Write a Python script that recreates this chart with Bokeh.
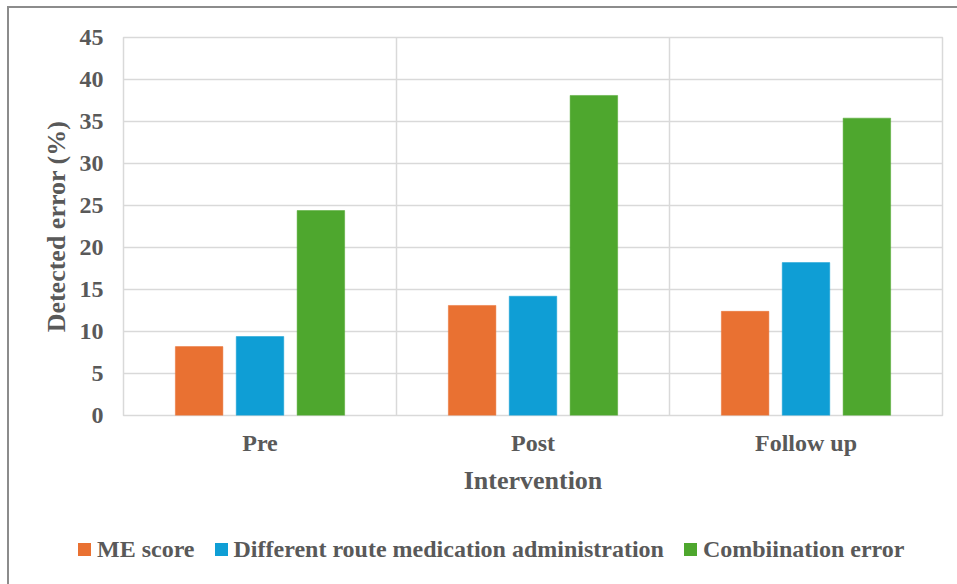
from bokeh.plotting import figure
from bokeh.layouts import column
from bokeh.models import ColumnDataSource, FactorRange, Range1d, Span, FixedTicker, Div
from bokeh.transform import dodge
from bokeh.embed import file_html
from bokeh.resources import INLINE

# Detected medication errors (%) by study phase
stages = ["Pre", "Post", "Follow up"]
me_score = [8.2, 13.1, 12.4]
different_route = [9.4, 14.2, 18.2]
combination_error = [24.4, 38.1, 35.4]
series_names = ["ME score", "Different route medication administration", "Combiination error"]
y_ticks = [0, 5, 10, 15, 20, 25, 30, 35, 40, 45]

FONT = "Liberation Serif"
TEXT = "#595959"
GRID = "#d9d9d9"
COLORS = ["#E97132", "#0F9ED5", "#4EA72E"]

src = ColumnDataSource(dict(stage=stages, me=me_score, route=different_route, combo=combination_error))

p = figure(
    width=948, height=500,
    x_range=FactorRange(*stages, range_padding=0),
    y_range=Range1d(0, 45),
    output_backend="svg", toolbar_location=None,
    min_border_left=114, min_border_right=15, min_border_top=29, min_border_bottom=93,
)

p.outline_line_color = GRID
p.outline_line_width = 1.5
p.background_fill_color = "white"
p.border_fill_color = "white"

# horizontal grid
p.ygrid.grid_line_color = GRID
p.ygrid.grid_line_width = 1.5
p.xgrid.visible = False
# vertical separators between the three phases
for loc in (1, 2):
    p.add_layout(Span(location=loc, dimension="height", line_color=GRID, line_width=1.5, level="underlay"))

bar_w = 0.174
offsets = [-0.223, 0.0, 0.223]
fields = ["me", "route", "combo"]
for f, off, c in zip(fields, offsets, COLORS):
    p.vbar(x=dodge("stage", off, range=p.x_range), top=f, width=bar_w, source=src,
           fill_color=c, line_color=c, line_width=0.5)

# axes
p.yaxis.ticker = FixedTicker(ticks=y_ticks)
for ax in (p.xaxis[0], p.yaxis[0]):
    ax.axis_line_color = None
    ax.major_tick_line_color = None
    ax.minor_tick_line_color = None
    ax.major_label_text_font = FONT
    ax.major_label_text_font_style = "bold"
    ax.major_label_text_font_size = "24px"
    ax.major_label_text_color = TEXT
    ax.axis_label_text_font = FONT
    ax.axis_label_text_font_style = "bold"
    ax.axis_label_text_font_size = "26px"
    ax.axis_label_text_color = TEXT

p.yaxis.axis_label = "Detected error (%)"
p.yaxis.major_label_standoff = 14
p.yaxis.axis_label_standoff = 6
p.xaxis.axis_label = "Intervention"
p.xaxis.major_label_standoff = 8
p.xaxis.axis_label_standoff = 7

# legend strip underneath the chart
items_html = "".join(
    f'<span style="display:inline-block;width:13px;height:13px;background:{c};margin-right:6px;"></span>'
    f'<span style="margin-right:{20 if i < len(series_names) - 1 else 0}px;">{n}</span>'
    for i, (n, c) in enumerate(zip(series_names, COLORS))
)
legend_html = (
    f'<div style="position:relative;width:948px;height:76px;font-family:\'{FONT}\';'
    f'font-weight:bold;font-size:24px;color:{TEXT};">'
    f'<div style="position:absolute;left:69px;top:27px;height:28px;display:flex;'
    f'align-items:center;white-space:nowrap;line-height:28px;">{items_html}</div></div>'
)
legend_div = Div(text=legend_html, width=948, height=76, margin=(0, 0, 0, 0))

page = column(
    p, legend_div, spacing=0,
    styles={
        "margin-left": "7px", "margin-top": "6px",
        "border-left": "2px solid #8c8c8c", "border-top": "2px solid #8c8c8c",
    },
)

open("out.html", "w").write(file_html(page, INLINE))
